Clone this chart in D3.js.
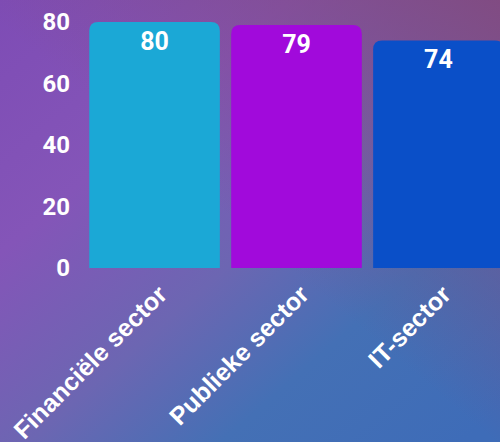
<!DOCTYPE html>
<html>
<head>
<meta charset="utf-8">
<script src="https://cdn.jsdelivr.net/npm/d3@7"></script>
<style>
  body { margin: 0; }
  svg { display: block; font-family: Roboto, "Noto Sans", sans-serif; }
</style>
</head>
<body>
<div id="chart"></div>
<script>
let sectors = ["Financiële sector", "Publieke sector", "IT-sector"]
let scores = [80, 79, 74]
let barColors = ["#1ba8d6", "#a10adb", "#0a4fc8"]
let yTicks = [0, 20, 40, 60, 80]

const width = 500, height = 442

let svg = d3.select("#chart").append("svg")
    .attr("width", width)
    .attr("height", height)

let defs = svg.append("defs")
let g1 = defs.append("linearGradient").attr("id", "bg1")
    .attr("gradientUnits", "userSpaceOnUse")
    .attr("x1", 0).attr("y1", 0).attr("x2", 420).attr("y2", 480)
g1.append("stop").attr("offset", "0%").attr("stop-color", "#7e4cb5")
g1.append("stop").attr("offset", "30%").attr("stop-color", "#8455b8")
g1.append("stop").attr("offset", "55%").attr("stop-color", "#6c66b2")
g1.append("stop").attr("offset", "75%").attr("stop-color", "#4470b5")
g1.append("stop").attr("offset", "100%").attr("stop-color", "#3e6cb8")

let g2 = defs.append("linearGradient").attr("id", "bg2")
    .attr("gradientUnits", "userSpaceOnUse")
    .attr("x1", 500).attr("y1", 0).attr("x2", 280).attr("y2", 260)
g2.append("stop").attr("offset", "0%").attr("stop-color", "#824a80").attr("stop-opacity", 0.95)
g2.append("stop").attr("offset", "100%").attr("stop-color", "#824a80").attr("stop-opacity", 0)

svg.append("rect").attr("width", width).attr("height", height).attr("fill", "url(#bg1)")
svg.append("rect").attr("width", width).attr("height", height).attr("fill", "url(#bg2)")

let x = d3.scaleBand()
    .domain(sectors)
    .range([85, 508])
    .paddingInner(0.08)
    .paddingOuter(0.03)

let y = d3.scaleLinear()
    .domain([0, 80])
    .range([268, 22])

// y axis labels
svg.append("g")
    .attr("transform", "translate(70,0)")
    .call(d3.axisLeft(y).tickValues(yTicks).tickSize(0).tickPadding(0))
    .call(g => g.select(".domain").remove())
    .selectAll("text")
    .attr("fill", "white")
    .attr("font-size", 24)
    .attr("font-weight", "bold")
    .attr("font-family", "Roboto, sans-serif")

// bars with rounded top corners
function barPath(x0, y0, w, h, r) {
    return `M${x0},${y0 + h}V${y0 + r}Q${x0},${y0} ${x0 + r},${y0}H${x0 + w - r}Q${x0 + w},${y0} ${x0 + w},${y0 + r}V${y0 + h}Z`
}

svg.append("g")
    .selectAll("path")
    .data(sectors)
    .join("path")
    .attr("d", (d, i) => barPath(x(d), y(scores[i]), x.bandwidth(), y(0) - y(scores[i]), 9))
    .attr("fill", (d, i) => barColors[i])

svg.append("g")
    .selectAll("text")
    .data(sectors)
    .join("text")
    .attr("x", d => x(d) + x.bandwidth() / 2)
    .attr("y", (d, i) => y(scores[i]) + 28)
    .attr("text-anchor", "middle")
    .attr("fill", "white")
    .attr("font-size", 25)
    .attr("font-weight", "bold")
    .text((d, i) => scores[i])

// x labels rotated
svg.append("g")
    .selectAll("text")
    .data(sectors)
    .join("text")
    .attr("transform", d => `translate(${x(d) + x.bandwidth() / 2 + 14},${296}) rotate(-45)`)
    .attr("text-anchor", "end")
    .attr("fill", "white")
    .attr("font-size", 25)
    .attr("font-weight", "bold")
    .attr("font-family", "'Liberation Sans', Arial, sans-serif")
    .text(d => d)
</script>
</body>
</html>
